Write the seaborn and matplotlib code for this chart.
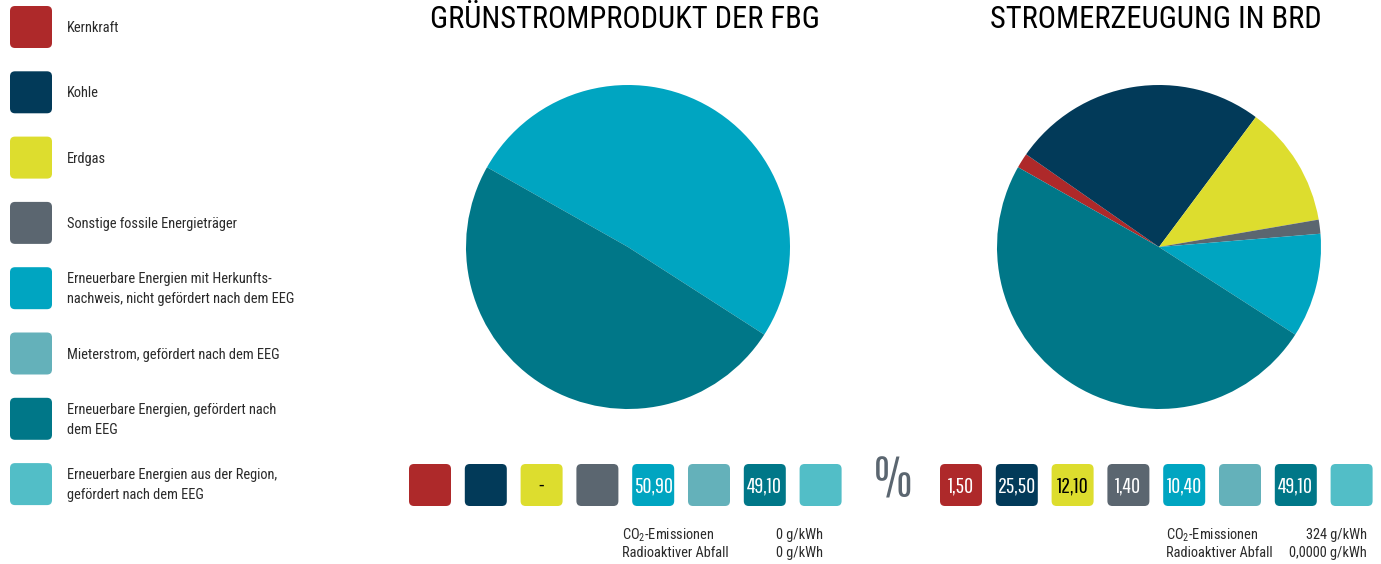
import numpy as np
import matplotlib
matplotlib.use("Agg")
import matplotlib.pyplot as plt
from matplotlib.patches import FancyBboxPatch
import seaborn as sns

# --- DATA ---
categories = [
    "Kernkraft",
    "Kohle",
    "Erdgas",
    "Sonstige fossile Energieträger",
    "Erneuerbare Energien mit Herkunfts-\nnachweis, nicht gefördert nach dem EEG",
    "Mieterstrom, gefördert nach dem EEG",
    "Erneuerbare Energien, gefördert nach\ndem EEG",
    "Erneuerbare Energien aus der Region,\ngefördert nach dem EEG",
]
colors = ["#ae292a", "#023a59", "#dddd2e", "#5b6670",
          "#00a5c1", "#64b1ba", "#007788", "#52bec7"]
# nan = empty box, 0 = "-"
fbg_values = [np.nan, np.nan, 0, np.nan, 50.9, np.nan, 49.1, np.nan]
brd_values = [1.5, 25.5, 12.1, 1.4, 10.4, np.nan, 49.1, np.nan]
titles = ["GRÜNSTROMPRODUKT DER FBG", "STROMERZEUGUNG IN BRD"]
co2 = ["0 g/kWh", "324 g/kWh"]
waste = ["0 g/kWh", "0,0000 g/kWh"]

# --- STYLE ---
sns.set_theme(style="white")
FONT = ["Roboto Condensed", "Liberation Sans", "DejaVu Sans"]
NUMFONT = ["Pathway Gothic One", "Antonio", "Roboto Condensed", "DejaVu Sans"]
plt.rcParams["font.family"] = FONT
plt.rcParams["mathtext.fontset"] = "custom"
plt.rcParams["mathtext.rm"] = "Roboto Condensed"
plt.rcParams["mathtext.default"] = "regular"
palette = sns.color_palette(colors)
TXT = "#2a2a2a"

W, H = 1381, 564
fig = plt.figure(figsize=(W / 100, H / 100), dpi=100)
fig.patch.set_facecolor("white")

# full-figure canvas in pixel coordinates for boxes and text
canvas = fig.add_axes([0, 0, 1, 1])
canvas.set_xlim(0, W)
canvas.set_ylim(H, 0)
canvas.axis("off")


def box(x, y, color, size=42):
    canvas.add_patch(FancyBboxPatch((x + 5, y + 5), size - 10, size - 10,
                                    boxstyle="round,pad=5", fc=color, ec="none"))


# --- LEGEND ---
for i, (cat, col) in enumerate(zip(categories, palette)):
    yc = 27 + i * 65.3
    box(10, yc - 21, col)
    canvas.text(67, yc + 1, cat, fontsize=10.4, color=TXT, va="center", ha="left",
                linespacing=1.5)

# --- PIES ---
centers_x = [628, 1159]
for cx, vals, title in zip(centers_x, [fbg_values, brd_values], titles):
    ax = fig.add_axes([(cx - 162) / W, (H - 247 - 162) / H, 324 / W, 324 / H])
    v = np.nan_to_num(np.array(vals, dtype=float))
    ax.pie(v, colors=palette, startangle=150.5, counterclock=False,
           wedgeprops=dict(linewidth=0))
    ax.set_xlim(-1.0, 1.0)
    ax.set_ylim(-1.0, 1.0)
    ax.set_aspect("equal")
    canvas.text(cx - 3, 20, title, fontsize=22, color="black",
                ha="center", va="center")

# --- VALUE BOXES ---
box_starts = [409, 940]
for x0, vals in zip(box_starts, [fbg_values, brd_values]):
    for i, (val, col) in enumerate(zip(vals, palette)):
        x = x0 + i * 55.8
        box(x, 464, col)
        if np.isnan(val):
            continue
        label = "-" if val == 0 else f"{val:.2f}".replace(".", ",")
        tc = "black" if colors[i] == "#dddd2e" else "white"
        canvas.text(x + 21, 486, label, fontsize=16, color=tc,
                    ha="center", va="center", family=NUMFONT)

canvas.text(893, 482, "%", fontsize=40, color="#5b6670", ha="center",
            va="center", family=NUMFONT)

# --- CO2 / WASTE ---
for xl, xr, c, w in zip([622, 1166], [823, 1367], co2, waste):
    kw = dict(fontsize=10.4, color=TXT, va="center")
    canvas.text(xl, 535, "CO$_2$-Emissionen", ha="left", **kw)
    canvas.text(xr, 535, c, ha="right", **kw)
    canvas.text(xl, 553, "Radioaktiver Abfall", ha="left", **kw)
    canvas.text(xr, 553, w, ha="right", **kw)

fig.savefig("out.png", dpi=100, facecolor="white")
